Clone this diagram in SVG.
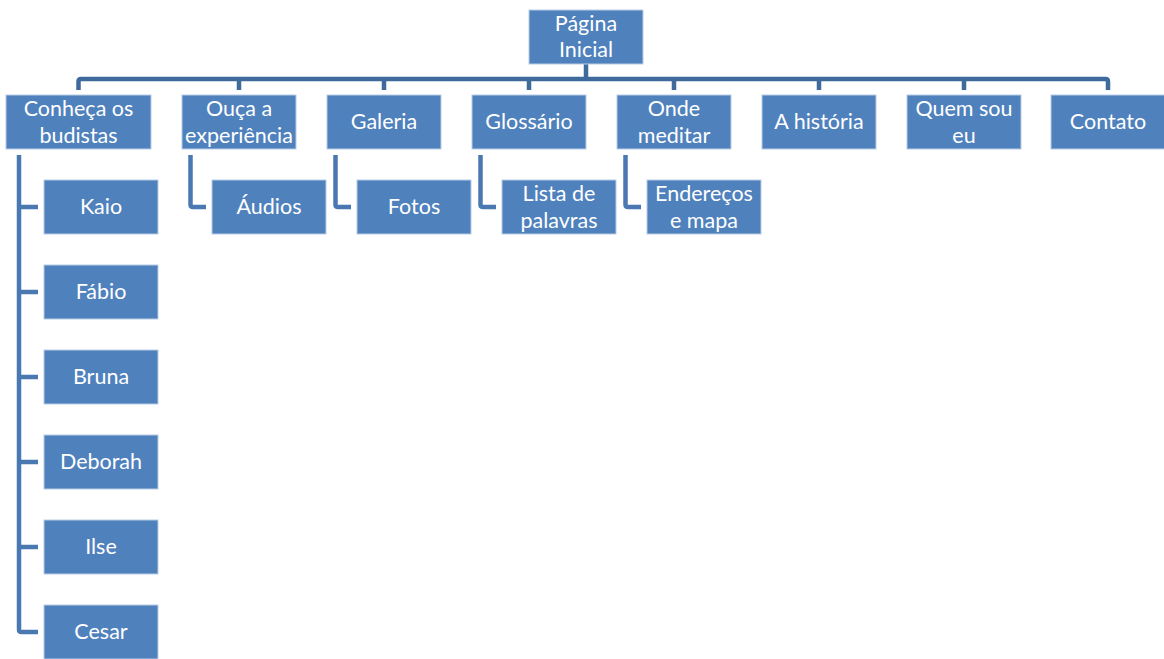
<svg xmlns="http://www.w3.org/2000/svg" width="1164" height="659" viewBox="0 0 1164 659">
<style>
.box{fill:#4F81BD;stroke:#B9CDE5;stroke-width:1}
.t{font-family:Lato,"Open Sans",sans-serif;font-size:21.5px;fill:#ffffff;text-anchor:middle;dominant-baseline:central}
.bus{fill:none;stroke:#3F6A9C;stroke-width:4.5;stroke-linejoin:round}
.sub{fill:none;stroke:#4A79B2;stroke-width:4.5;stroke-linejoin:round}
</style>
<rect width="1164" height="659" fill="#ffffff"/>
<g id="connectors">
<path class="bus" d="M586 64 V79"/>
<path class="bus" d="M78.5 90 V81.5 Q78.5 79 81 79 H1105.5 Q1108 79 1108 81.5 V90"/>
<path class="bus" d="M239 79 V90 M384 79 V90 M529 79 V90 M674 79 V90 M819 79 V90 M964 79 V90"/>
<path class="sub" d="M19 155 V629.5 Q19 632 21.5 632 H38 M19 207 H38 M19 292 H38 M19 377 H38 M19 462 H38 M19 547 H38"/>
<path class="sub" d="M190.5 155 V204.5 Q190.5 207 193 207 H206"/>
<path class="sub" d="M335.5 155 V204.5 Q335.5 207 338 207 H351"/>
<path class="sub" d="M480.5 155 V204.5 Q480.5 207 483 207 H496"/>
<path class="sub" d="M625.5 155 V204.5 Q625.5 207 628 207 H641"/>
</g>
<g id="n-root"><rect class="box" x="529" y="10" width="114" height="54"/><text class="t" x="586" y="23">Página</text><text class="t" x="586" y="49">Inicial</text></g>
<g id="n-conheca"><rect class="box" x="6" y="95" width="145" height="54"/><text class="t" x="78.5" y="108">Conheça os</text><text class="t" x="78.5" y="134.5">budistas</text></g>
<g id="n-ouca"><rect class="box" x="182" y="95" width="114" height="54"/><text class="t" x="239" y="108">Ouça a</text><text class="t" x="239" y="134.5">experiência</text></g>
<g id="n-galeria"><rect class="box" x="327" y="95" width="114" height="54"/><text class="t" x="384" y="121">Galeria</text></g>
<g id="n-glossario"><rect class="box" x="472" y="95" width="114" height="54"/><text class="t" x="529" y="121">Glossário</text></g>
<g id="n-onde"><rect class="box" x="617" y="95" width="114" height="54"/><text class="t" x="674" y="108">Onde</text><text class="t" x="674" y="134.5">meditar</text></g>
<g id="n-historia"><rect class="box" x="762" y="95" width="114" height="54"/><text class="t" x="819" y="121">A história</text></g>
<g id="n-quem"><rect class="box" x="907" y="95" width="114" height="54"/><text class="t" x="964" y="108">Quem sou</text><text class="t" x="964" y="134.5">eu</text></g>
<g id="n-contato"><rect class="box" x="1051" y="95" width="114" height="54"/><text class="t" x="1108" y="121">Contato</text></g>
<g id="n-kaio"><rect class="box" x="44" y="180" width="114" height="54"/><text class="t" x="101" y="206">Kaio</text></g>
<g id="n-fabio"><rect class="box" x="44" y="265" width="114" height="54"/><text class="t" x="101" y="291">Fábio</text></g>
<g id="n-bruna"><rect class="box" x="44" y="350" width="114" height="54"/><text class="t" x="101" y="376">Bruna</text></g>
<g id="n-deborah"><rect class="box" x="44" y="435" width="114" height="54"/><text class="t" x="101" y="461">Deborah</text></g>
<g id="n-ilse"><rect class="box" x="44" y="520" width="114" height="54"/><text class="t" x="101" y="546">Ilse</text></g>
<g id="n-cesar"><rect class="box" x="44" y="605" width="114" height="54"/><text class="t" x="101" y="631">Cesar</text></g>
<g id="n-audios"><rect class="box" x="212" y="180" width="114" height="54"/><text class="t" x="269" y="206">Áudios</text></g>
<g id="n-fotos"><rect class="box" x="357" y="180" width="114" height="54"/><text class="t" x="414" y="206">Fotos</text></g>
<g id="n-lista"><rect class="box" x="502" y="180" width="114" height="54"/><text class="t" x="559" y="193">Lista de</text><text class="t" x="559" y="219.5">palavras</text></g>
<g id="n-enderecos"><rect class="box" x="647" y="180" width="114" height="54"/><text class="t" x="704" y="193">Endereços</text><text class="t" x="704" y="219.5">e mapa</text></g>
</svg>
